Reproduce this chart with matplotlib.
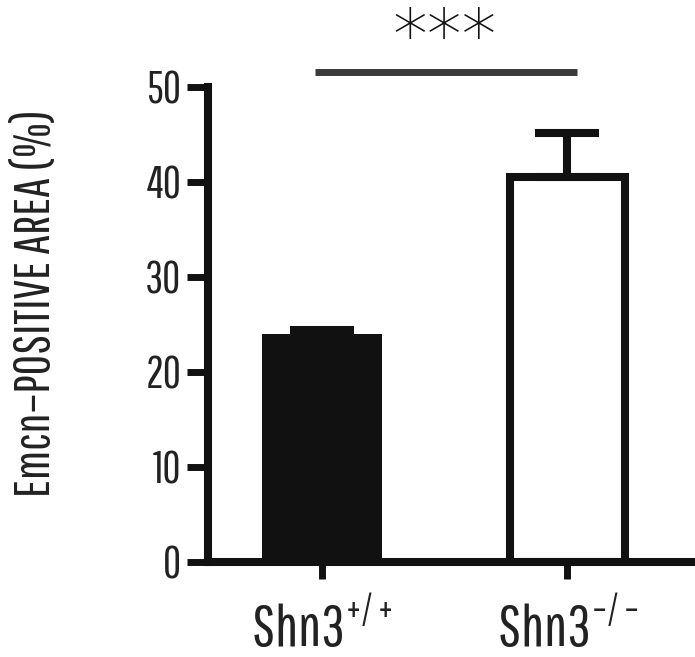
import matplotlib
matplotlib.use("Agg")
import matplotlib.pyplot as plt

plt.rcParams['font.family'] = ['Pathway Gothic One', 'DejaVu Sans']
plt.rcParams['mathtext.fontset'] = 'custom'
plt.rcParams['mathtext.rm'] = 'Pathway Gothic One'
plt.rcParams['mathtext.it'] = 'Pathway Gothic One'
plt.rcParams['mathtext.default'] = 'rm'

groups = ['Shn3$^{+/+}$', 'Shn3$^{-/-}$']
means = [24.0, 40.5]
sems = [0.4, 4.7]
yticks = [0, 10, 20, 30, 40, 50]
sig_text = '***'
sig_y = 51.6

ink = '#111111'
lw = 5.8

fig = plt.figure(figsize=(6.95, 6.57), dpi=100)
ax = fig.add_axes([0.299, 0.1446, 0.701, 0.723])

x = [0, 1]
ax.bar(x[0], means[0], width=0.49, color=ink, edgecolor=ink, linewidth=0, zorder=2)
ax.bar(x[1], means[1], width=0.47, color='white', edgecolor=ink, linewidth=lw, zorder=2)
for xi, m, s in zip(x, means, sems):
    ax.errorbar(xi, m, yerr=[[0], [s]], fmt='none', ecolor=ink, elinewidth=lw,
                capsize=23, capthick=lw, zorder=3)

ax.set_xlim(-0.465, 1.52)
ax.set_ylim(0, 50)
ax.set_yticks(yticks)
ax.set_xticks(x)
ax.set_xticklabels(groups, fontsize=42)
ax.tick_params(axis='y', labelsize=32, length=15, width=5, color=ink, pad=4,
               labelcolor='#222222')
ax.tick_params(axis='x', length=12, width=5, color=ink, pad=14,
               labelcolor='#222222')

for side in ['top', 'right']:
    ax.spines[side].set_visible(False)
for side in ['left', 'bottom']:
    ax.spines[side].set_linewidth(lw)
    ax.spines[side].set_color(ink)

ax.set_ylabel('Emcn\u2013POSITIVE AREA (%)', fontsize=36, color='#222222')
ax.yaxis.set_label_coords(-0.306, 0.545)

# significance bar
ax.plot([-0.03, 1.04], [sig_y, sig_y], color='#3a3a3a', lw=5, clip_on=False,
        solid_capstyle='butt')
ax.text(0.5, sig_y + 3.4, sig_text, ha='center', va='center', fontsize=50,
        color=ink, family='DejaVu Sans', fontweight='light', clip_on=False)

fig.savefig('out.png', dpi=100)
